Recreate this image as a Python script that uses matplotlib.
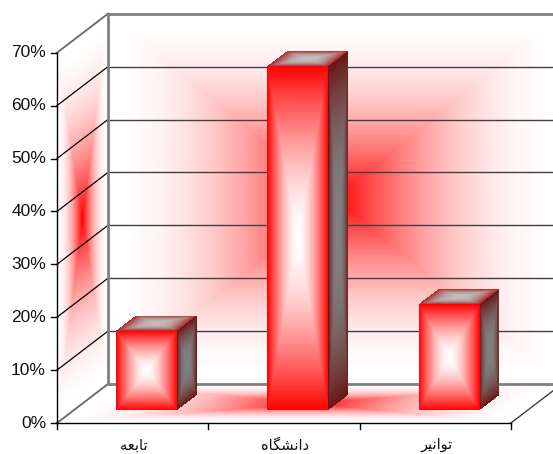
"""3D look column chart with path-gradient walls and bars."""
import numpy as np
import matplotlib
matplotlib.use('Agg')
import matplotlib.pyplot as plt

categories = ['تابعه', 'دانشگاه', 'توانیر']
# matplotlib does no Arabic shaping, so draw presentation forms in visual order
shaped = {'تابعه': 'ﻪﻌﺑﺎﺗ', 'دانشگاه': 'ﻩﺎﮕﺸﻧﺍﺩ', 'توانیر': 'ﺮﯿﻧﺍﻮﺗ'}
values = [15, 65, 20]
y_ticks = [0, 10, 20, 30, 40, 50, 60, 70]

W, H = 553, 454
X0, Y0 = 57, 423        # front-left corner of the floor
CAT_W = 151.3           # width of one category slot
PCT = 5.29              # pixels per percent
DX, DY = 51, -39        # depth offset of the back wall
BAR_W = 61
BAR_SHIFT = -0.02       # category units
BAR_D0, BAR_D1 = 1/3, 0.72   # depth span of the bars

plt.rcParams['font.family'] = ['Liberation Sans', 'DejaVu Sans']


def pt(cat, val, depth=0.0):
    # category units, percent, depth 0-1 -> pixels
    return (X0 + cat*CAT_W + depth*DX, Y0 - val*PCT + depth*DY)


def grad_quad(ax, p00, p10, p01, c_edge, c_mid, curve, zorder=1):
    """Rectangular path gradient over the parallelogram p00, p10, p01."""
    n = 220
    u = np.linspace(0, 1, n)
    U, V = np.meshgrid(u, u)
    a, b, c = np.array(p00), np.array(p10), np.array(p01)
    X = a[0] + U*(b[0]-a[0]) + V*(c[0]-a[0])
    Y = a[1] + U*(b[1]-a[1]) + V*(c[1]-a[1])
    Uc = (U[:-1, :-1] + U[1:, 1:])/2
    Vc = (V[:-1, :-1] + V[1:, 1:])/2
    t = np.maximum(np.abs(2*Uc-1), np.abs(2*Vc-1))
    mix = curve(t)[..., None]     # 0 at the middle, 1 at the edge
    c_edge = np.array(c_edge)/255
    c_mid = np.array(c_mid)/255
    rgb = c_mid + (c_edge-c_mid)*mix
    return ax.pcolormesh(X, Y, rgb, shading='flat', zorder=zorder,
                         edgecolors='face', linewidth=0, rasterized=True)


fig = plt.figure(figsize=(W/100, H/100), dpi=100)
ax = fig.add_axes([0, 0, 1, 1])
ax.set_xlim(0, W)
ax.set_ylim(H, 0)
ax.axis('off')

WHITE, RED = (255, 255, 255), (255, 0, 0)
n_cat = len(categories)
top = y_ticks[-1]
wall_curve = lambda t: 1 - (1-t)**2.0
bar_curve = lambda t: t**1.6
side_curve = lambda t: t**2.4

# walls and floor
grad_quad(ax, pt(0, 0, 1), pt(n_cat, 0, 1), pt(0, top, 1), WHITE, RED, wall_curve)
grad_quad(ax, pt(0, 0, 0), pt(0, 0, 1), pt(0, top, 0), WHITE, RED, wall_curve)
grad_quad(ax, pt(0, 0, 0), pt(n_cat, 0, 0), pt(0, 0, 1), WHITE, RED, wall_curve)

# gridlines on back and left walls
for tv in y_ticks:
    edge = tv in (0, top)
    xa, ya = pt(0, tv, 0)
    xb, yb = pt(0, tv, 1)
    xc, yc = pt(n_cat, tv, 1)
    ax.plot([xb, xc], [yb, yc], color='#808080' if edge else '#404040',
            lw=2.0 if edge else 1.0, zorder=2, solid_capstyle='butt')
    ax.plot([xa, xb], [ya, yb], color='#707070' if edge else 'black',
            lw=1.4 if edge else 0.9, zorder=2)

# back wall left edge, floor right edge
xa, ya = pt(0, 0, 1)
xb, yb = pt(0, top, 1)
ax.plot([xa, xb], [ya, yb], color='#808080', lw=2.0, zorder=2)
xa, ya = pt(n_cat, 0, 0)
xb, yb = pt(n_cat, 0, 1)
ax.plot([xa, xb], [ya, yb], color='#404040', lw=1.0, zorder=2)

# axes lines and ticks
xa, ya = pt(0, 0, 0)
xb, yb = pt(0, top, 0)
ax.plot([xa, xb], [ya, yb], color='black', lw=1.0, zorder=5)
xb, yb = pt(n_cat, 0, 0)
ax.plot([xa, xb], [ya, yb], color='black', lw=1.0, zorder=5)
for tv in y_ticks:
    x, y = pt(0, tv, 0)
    ax.plot([x-6, x], [y, y], color='black', lw=1.0, zorder=5)
    ax.text(x-11, y, f'{tv}%', ha='right', va='center', fontsize=12.5, color='#111111')
for i in range(n_cat+1):
    x, y = pt(i, 0, 0)
    ax.plot([x, x], [y, y+6], color='black', lw=1.0, zorder=5)
for i, name in enumerate(categories):
    x, y = pt(i+0.5, 0, 0)
    ax.text(x+1, y+22, shaped[name], ha='center', va='center', fontsize=10.5,
            color='#111111', family='DejaVu Sans')

# bars
for i, v in enumerate(values):
    off = (1 - BAR_W/CAT_W)/2
    c0, c1 = i+off+BAR_SHIFT, i+1-off+BAR_SHIFT
    p = pt(c0, 0, BAR_D0)
    q = pt(c1, 0, BAR_D0)
    r = pt(c0, v, BAR_D0)
    grad_quad(ax, p, q, r, (255, 0, 0), WHITE, bar_curve, zorder=6)
    # side face
    grad_quad(ax, q, pt(c1, 0, BAR_D1), pt(c1, v, BAR_D0),
              (105, 20, 20), (128, 128, 128), side_curve, zorder=6)
    # top face
    grad_quad(ax, r, pt(c1, v, BAR_D0), pt(c0, v, BAR_D1),
              (170, 40, 40), (190, 190, 190), side_curve, zorder=6)

fig.savefig('out.png', dpi=100)
